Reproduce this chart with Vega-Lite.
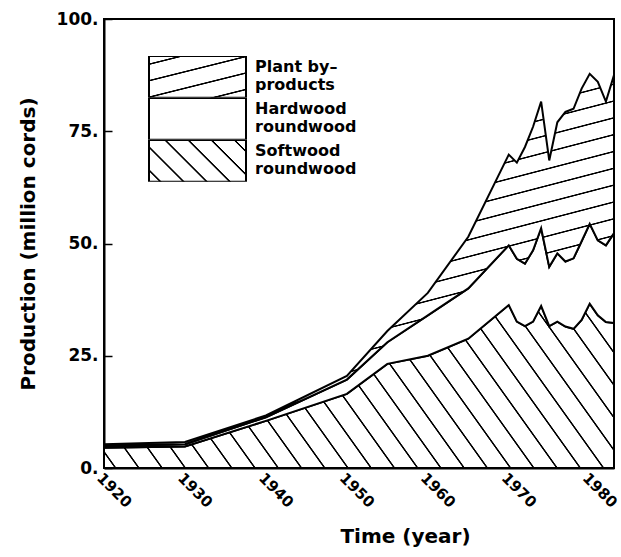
{
  "$schema": "https://vega.github.io/schema/vega-lite/v6.json",
  "width": 510,
  "height": 449,
  "autosize": "none",
  "padding": {"left": 104, "top": 19, "right": 7, "bottom": 89},
  "background": "white",
  "config": {
    "view": {"stroke": "black", "strokeWidth": 2},
    "font": "DejaVu Sans",
    "legend": {"rowPadding": -6}
  },
  "data": {
    "values": [
      {"year": 1920, "category": "Softwood roundwood", "production": 4.5},
      {"year": 1920, "category": "Hardwood roundwood", "production": 0.4},
      {"year": 1920, "category": "Plant by-products", "production": 0.4},
      {"year": 1930, "category": "Softwood roundwood", "production": 4.8},
      {"year": 1930, "category": "Hardwood roundwood", "production": 0.5},
      {"year": 1930, "category": "Plant by-products", "production": 0.5},
      {"year": 1940, "category": "Softwood roundwood", "production": 10.5},
      {"year": 1940, "category": "Hardwood roundwood", "production": 0.8},
      {"year": 1940, "category": "Plant by-products", "production": 0.4},
      {"year": 1950, "category": "Softwood roundwood", "production": 16.5},
      {"year": 1950, "category": "Hardwood roundwood", "production": 3.2},
      {"year": 1950, "category": "Plant by-products", "production": 0.8},
      {"year": 1955, "category": "Softwood roundwood", "production": 23.2},
      {"year": 1955, "category": "Hardwood roundwood", "production": 4.8},
      {"year": 1955, "category": "Plant by-products", "production": 2.5},
      {"year": 1960, "category": "Softwood roundwood", "production": 25.0},
      {"year": 1960, "category": "Hardwood roundwood", "production": 9.0},
      {"year": 1960, "category": "Plant by-products", "production": 5.0},
      {"year": 1965, "category": "Softwood roundwood", "production": 28.8},
      {"year": 1965, "category": "Hardwood roundwood", "production": 11.2},
      {"year": 1965, "category": "Plant by-products", "production": 11.5},
      {"year": 1970, "category": "Softwood roundwood", "production": 36.3},
      {"year": 1970, "category": "Hardwood roundwood", "production": 13.3},
      {"year": 1970, "category": "Plant by-products", "production": 20.2},
      {"year": 1971, "category": "Softwood roundwood", "production": 32.6},
      {"year": 1971, "category": "Hardwood roundwood", "production": 14.0},
      {"year": 1971, "category": "Plant by-products", "production": 21.4},
      {"year": 1972, "category": "Softwood roundwood", "production": 31.6},
      {"year": 1972, "category": "Hardwood roundwood", "production": 13.9},
      {"year": 1972, "category": "Plant by-products", "production": 26.0},
      {"year": 1973, "category": "Softwood roundwood", "production": 32.6},
      {"year": 1973, "category": "Hardwood roundwood", "production": 15.9},
      {"year": 1973, "category": "Plant by-products", "production": 27.5},
      {"year": 1974, "category": "Softwood roundwood", "production": 36.1},
      {"year": 1974, "category": "Hardwood roundwood", "production": 17.3},
      {"year": 1974, "category": "Plant by-products", "production": 28.2},
      {"year": 1975, "category": "Softwood roundwood", "production": 31.6},
      {"year": 1975, "category": "Hardwood roundwood", "production": 13.2},
      {"year": 1975, "category": "Plant by-products", "production": 23.7},
      {"year": 1976, "category": "Softwood roundwood", "production": 32.6},
      {"year": 1976, "category": "Hardwood roundwood", "production": 15.2},
      {"year": 1976, "category": "Plant by-products", "production": 29.2},
      {"year": 1977, "category": "Softwood roundwood", "production": 31.5},
      {"year": 1977, "category": "Hardwood roundwood", "production": 14.5},
      {"year": 1977, "category": "Plant by-products", "production": 33.3},
      {"year": 1978, "category": "Softwood roundwood", "production": 31.0},
      {"year": 1978, "category": "Hardwood roundwood", "production": 15.7},
      {"year": 1978, "category": "Plant by-products", "production": 33.3},
      {"year": 1979, "category": "Softwood roundwood", "production": 33.0},
      {"year": 1979, "category": "Hardwood roundwood", "production": 17.5},
      {"year": 1979, "category": "Plant by-products", "production": 34.0},
      {"year": 1980, "category": "Softwood roundwood", "production": 36.6},
      {"year": 1980, "category": "Hardwood roundwood", "production": 17.8},
      {"year": 1980, "category": "Plant by-products", "production": 33.4},
      {"year": 1981, "category": "Softwood roundwood", "production": 34.0},
      {"year": 1981, "category": "Hardwood roundwood", "production": 16.7},
      {"year": 1981, "category": "Plant by-products", "production": 35.3},
      {"year": 1982, "category": "Softwood roundwood", "production": 32.5},
      {"year": 1982, "category": "Hardwood roundwood", "production": 17.1},
      {"year": 1982, "category": "Plant by-products", "production": 32.0},
      {"year": 1983, "category": "Softwood roundwood", "production": 32.3},
      {"year": 1983, "category": "Hardwood roundwood", "production": 20.0},
      {"year": 1983, "category": "Plant by-products", "production": 35.2}
    ]
  },
  "transform": [
    {"calculate": "indexof(['Softwood roundwood','Hardwood roundwood','Plant by-products'], datum.category)", "as": "ord"},
    {"stack": "production", "groupby": ["year"], "sort": [{"field": "ord", "order": "ascending"}], "as": ["y0", "y1"]}
  ],
  "encoding": {
    "x": {
      "field": "year", "type": "quantitative",
      "scale": {"domain": [1920, 1983], "nice": false, "zero": false},
      "axis": {
        "values": [1920, 1930, 1940, 1950, 1960, 1970, 1980],
        "format": "d",
        "labelAngle": 45, "labelAlign": "left", "labelBaseline": "top",
        "labelFontWeight": "bold", "labelFontSize": 15, "labelColor": "black",
        "labelPadding": 10, "labelFlush": false,
        "tickSize": -8, "tickColor": "black", "tickWidth": 1.5,
        "domainColor": "black", "domainWidth": 2, "grid": false,
        "title": "Time (year)", "titleFontSize": 20, "titleFontWeight": "bold", "titleColor": "black",
        "titleX": 301, "titleY": 74, "titleAlign": "center", "titleBaseline": "alphabetic"
      }
    },
    "y": {
      "field": "y1", "type": "quantitative",
      "scale": {"domain": [0, 100], "nice": false},
      "axis": {
        "values": [0, 25, 50, 75, 100],
        "labelExpr": "datum.value + '.'",
        "labelFontWeight": "bold", "labelFontSize": 17, "labelColor": "black",
        "labelPadding": 14,
        "tickSize": -8, "tickColor": "black", "tickWidth": 1.5,
        "domainColor": "black", "domainWidth": 2, "grid": false,
        "title": "Production (million cords)", "titleFontSize": 20, "titleFontWeight": "bold", "titleColor": "black",
        "titlePadding": 18
      }
    },
    "y2": {"field": "y0"},
    "stroke": {
      "field": "category", "type": "nominal",
      "scale": {"domain": ["Plant by-products", "Hardwood roundwood", "Softwood roundwood"], "range": ["black", "black", "black"]},
      "legend": {
        "orient": "none", "legendX": 44, "legendY": 37, "title": null, "padding": 0,
        "symbolType": "M-1,-0.43H1V0.43H-1Z", "symbolSize": 9409,
        "symbolStrokeWidth": 2, "symbolStrokeColor": "black",
        "clipHeight": 41.7, "rowPadding": -6, "labelOffset": 8,
        "labelFontWeight": "bold", "labelFontSize": 16, "labelColor": "black", "labelLineHeight": 20,
        "labelLimit": 0,
        "labelExpr": "datum.value == 'Plant by-products' ? ['Plant by–', 'products'] : split(datum.value, ' ')",
        "encoding": {
          "labels": {"dy": {"value": -10}},
          "symbols": {
            "fill": {
              "condition": [
                {"test": "datum.value === 'Plant by-products'", "value": {"gradient": "linear", "x1": 0, "y1": 0, "x2": 0.686, "y2": 1.182, "stops": [
                  {"offset": 0.108, "color": "#fff"}, {"offset": 0.1175, "color": "#000"}, {"offset": 0.1325, "color": "#000"}, {"offset": 0.142, "color": "#fff"},
                  {"offset": 0.358, "color": "#fff"}, {"offset": 0.3675, "color": "#000"}, {"offset": 0.3825, "color": "#000"}, {"offset": 0.392, "color": "#fff"},
                  {"offset": 0.608, "color": "#fff"}, {"offset": 0.6175, "color": "#000"}, {"offset": 0.6325, "color": "#000"}, {"offset": 0.642, "color": "#fff"},
                  {"offset": 0.858, "color": "#fff"}, {"offset": 0.8675, "color": "#000"}, {"offset": 0.8825, "color": "#000"}, {"offset": 0.892, "color": "#fff"}
                ]}},
                {"test": "datum.value === 'Softwood roundwood'", "value": {"gradient": "linear", "x1": 0, "y1": 1, "x2": 1.207, "y2": 0.481, "stops": [
                  {"offset": 0.0723, "color": "#fff"}, {"offset": 0.0783, "color": "#000"}, {"offset": 0.0883, "color": "#000"}, {"offset": 0.0943, "color": "#fff"},
                  {"offset": 0.2390, "color": "#fff"}, {"offset": 0.2450, "color": "#000"}, {"offset": 0.2550, "color": "#000"}, {"offset": 0.2610, "color": "#fff"},
                  {"offset": 0.4057, "color": "#fff"}, {"offset": 0.4117, "color": "#000"}, {"offset": 0.4217, "color": "#000"}, {"offset": 0.4277, "color": "#fff"},
                  {"offset": 0.5723, "color": "#fff"}, {"offset": 0.5783, "color": "#000"}, {"offset": 0.5883, "color": "#000"}, {"offset": 0.5943, "color": "#fff"},
                  {"offset": 0.7390, "color": "#fff"}, {"offset": 0.7450, "color": "#000"}, {"offset": 0.7550, "color": "#000"}, {"offset": 0.7610, "color": "#fff"},
                  {"offset": 0.9057, "color": "#fff"}, {"offset": 0.9117, "color": "#000"}, {"offset": 0.9217, "color": "#000"}, {"offset": 0.9277, "color": "#fff"}
                ]}}
              ],
              "value": "white"
            }
          }
        }
      }
    }
  },
  "layer": [
    {
      "transform": [{"filter": "datum.category === 'Softwood roundwood'"}],
      "mark": {"type": "area", "strokeWidth": 2, "fill": {"gradient": "linear", "x1": 0, "y1": 1, "x2": 1.168, "y2": 0.731, "stops": [
        {"offset": 0.0163, "color": "#fff"}, {"offset": 0.0176, "color": "#000"}, {"offset": 0.0194, "color": "#000"}, {"offset": 0.0207, "color": "#fff"},
        {"offset": 0.0534, "color": "#fff"}, {"offset": 0.0547, "color": "#000"}, {"offset": 0.0565, "color": "#000"}, {"offset": 0.0578, "color": "#fff"},
        {"offset": 0.0904, "color": "#fff"}, {"offset": 0.0917, "color": "#000"}, {"offset": 0.0935, "color": "#000"}, {"offset": 0.0948, "color": "#fff"},
        {"offset": 0.1274, "color": "#fff"}, {"offset": 0.1287, "color": "#000"}, {"offset": 0.1305, "color": "#000"}, {"offset": 0.1318, "color": "#fff"},
        {"offset": 0.1645, "color": "#fff"}, {"offset": 0.1658, "color": "#000"}, {"offset": 0.1676, "color": "#000"}, {"offset": 0.1689, "color": "#fff"},
        {"offset": 0.2015, "color": "#fff"}, {"offset": 0.2028, "color": "#000"}, {"offset": 0.2046, "color": "#000"}, {"offset": 0.2059, "color": "#fff"},
        {"offset": 0.2385, "color": "#fff"}, {"offset": 0.2398, "color": "#000"}, {"offset": 0.2416, "color": "#000"}, {"offset": 0.2429, "color": "#fff"},
        {"offset": 0.2756, "color": "#fff"}, {"offset": 0.2769, "color": "#000"}, {"offset": 0.2787, "color": "#000"}, {"offset": 0.2800, "color": "#fff"},
        {"offset": 0.3126, "color": "#fff"}, {"offset": 0.3139, "color": "#000"}, {"offset": 0.3157, "color": "#000"}, {"offset": 0.3170, "color": "#fff"},
        {"offset": 0.3497, "color": "#fff"}, {"offset": 0.3510, "color": "#000"}, {"offset": 0.3528, "color": "#000"}, {"offset": 0.3541, "color": "#fff"},
        {"offset": 0.3867, "color": "#fff"}, {"offset": 0.3880, "color": "#000"}, {"offset": 0.3898, "color": "#000"}, {"offset": 0.3911, "color": "#fff"},
        {"offset": 0.4237, "color": "#fff"}, {"offset": 0.4250, "color": "#000"}, {"offset": 0.4268, "color": "#000"}, {"offset": 0.4281, "color": "#fff"},
        {"offset": 0.4608, "color": "#fff"}, {"offset": 0.4621, "color": "#000"}, {"offset": 0.4639, "color": "#000"}, {"offset": 0.4652, "color": "#fff"},
        {"offset": 0.4978, "color": "#fff"}, {"offset": 0.4991, "color": "#000"}, {"offset": 0.5009, "color": "#000"}, {"offset": 0.5022, "color": "#fff"},
        {"offset": 0.5348, "color": "#fff"}, {"offset": 0.5361, "color": "#000"}, {"offset": 0.5379, "color": "#000"}, {"offset": 0.5392, "color": "#fff"},
        {"offset": 0.5719, "color": "#fff"}, {"offset": 0.5732, "color": "#000"}, {"offset": 0.5750, "color": "#000"}, {"offset": 0.5763, "color": "#fff"},
        {"offset": 0.6089, "color": "#fff"}, {"offset": 0.6102, "color": "#000"}, {"offset": 0.6120, "color": "#000"}, {"offset": 0.6133, "color": "#fff"},
        {"offset": 0.6459, "color": "#fff"}, {"offset": 0.6472, "color": "#000"}, {"offset": 0.6490, "color": "#000"}, {"offset": 0.6503, "color": "#fff"},
        {"offset": 0.6830, "color": "#fff"}, {"offset": 0.6843, "color": "#000"}, {"offset": 0.6861, "color": "#000"}, {"offset": 0.6874, "color": "#fff"},
        {"offset": 0.7200, "color": "#fff"}, {"offset": 0.7213, "color": "#000"}, {"offset": 0.7231, "color": "#000"}, {"offset": 0.7244, "color": "#fff"},
        {"offset": 0.7571, "color": "#fff"}, {"offset": 0.7584, "color": "#000"}, {"offset": 0.7602, "color": "#000"}, {"offset": 0.7615, "color": "#fff"},
        {"offset": 0.7941, "color": "#fff"}, {"offset": 0.7954, "color": "#000"}, {"offset": 0.7972, "color": "#000"}, {"offset": 0.7985, "color": "#fff"},
        {"offset": 0.8311, "color": "#fff"}, {"offset": 0.8324, "color": "#000"}, {"offset": 0.8342, "color": "#000"}, {"offset": 0.8355, "color": "#fff"},
        {"offset": 0.8682, "color": "#fff"}, {"offset": 0.8695, "color": "#000"}, {"offset": 0.8713, "color": "#000"}, {"offset": 0.8726, "color": "#fff"},
        {"offset": 0.9052, "color": "#fff"}, {"offset": 0.9065, "color": "#000"}, {"offset": 0.9083, "color": "#000"}, {"offset": 0.9096, "color": "#fff"},
        {"offset": 0.9422, "color": "#fff"}, {"offset": 0.9435, "color": "#000"}, {"offset": 0.9453, "color": "#000"}, {"offset": 0.9466, "color": "#fff"},
        {"offset": 0.9793, "color": "#fff"}, {"offset": 0.9806, "color": "#000"}, {"offset": 0.9824, "color": "#000"}, {"offset": 0.9837, "color": "#fff"}
      ]}}
    },
    {
      "transform": [{"filter": "datum.category === 'Hardwood roundwood'"}],
      "mark": {"type": "area", "strokeWidth": 2, "fill": "white"}
    },
    {
      "transform": [{"filter": "datum.category === 'Plant by-products'"}],
      "mark": {"type": "area", "strokeWidth": 2, "fill": {"gradient": "linear", "x1": 0, "y1": 0, "x2": 0.429, "y2": 1.2035, "stops": [
        {"offset": 0.0145, "color": "#fff"}, {"offset": 0.0158, "color": "#000"}, {"offset": 0.0176, "color": "#000"}, {"offset": 0.0189, "color": "#fff"},
        {"offset": 0.0478, "color": "#fff"}, {"offset": 0.0491, "color": "#000"}, {"offset": 0.0509, "color": "#000"}, {"offset": 0.0522, "color": "#fff"},
        {"offset": 0.0811, "color": "#fff"}, {"offset": 0.0824, "color": "#000"}, {"offset": 0.0842, "color": "#000"}, {"offset": 0.0855, "color": "#fff"},
        {"offset": 0.1145, "color": "#fff"}, {"offset": 0.1158, "color": "#000"}, {"offset": 0.1176, "color": "#000"}, {"offset": 0.1189, "color": "#fff"},
        {"offset": 0.1478, "color": "#fff"}, {"offset": 0.1491, "color": "#000"}, {"offset": 0.1509, "color": "#000"}, {"offset": 0.1522, "color": "#fff"},
        {"offset": 0.1811, "color": "#fff"}, {"offset": 0.1824, "color": "#000"}, {"offset": 0.1842, "color": "#000"}, {"offset": 0.1855, "color": "#fff"},
        {"offset": 0.2145, "color": "#fff"}, {"offset": 0.2158, "color": "#000"}, {"offset": 0.2176, "color": "#000"}, {"offset": 0.2189, "color": "#fff"},
        {"offset": 0.2478, "color": "#fff"}, {"offset": 0.2491, "color": "#000"}, {"offset": 0.2509, "color": "#000"}, {"offset": 0.2522, "color": "#fff"},
        {"offset": 0.2811, "color": "#fff"}, {"offset": 0.2824, "color": "#000"}, {"offset": 0.2842, "color": "#000"}, {"offset": 0.2855, "color": "#fff"},
        {"offset": 0.3145, "color": "#fff"}, {"offset": 0.3158, "color": "#000"}, {"offset": 0.3176, "color": "#000"}, {"offset": 0.3189, "color": "#fff"},
        {"offset": 0.3478, "color": "#fff"}, {"offset": 0.3491, "color": "#000"}, {"offset": 0.3509, "color": "#000"}, {"offset": 0.3522, "color": "#fff"},
        {"offset": 0.3811, "color": "#fff"}, {"offset": 0.3824, "color": "#000"}, {"offset": 0.3842, "color": "#000"}, {"offset": 0.3855, "color": "#fff"},
        {"offset": 0.4145, "color": "#fff"}, {"offset": 0.4158, "color": "#000"}, {"offset": 0.4176, "color": "#000"}, {"offset": 0.4189, "color": "#fff"},
        {"offset": 0.4478, "color": "#fff"}, {"offset": 0.4491, "color": "#000"}, {"offset": 0.4509, "color": "#000"}, {"offset": 0.4522, "color": "#fff"},
        {"offset": 0.4811, "color": "#fff"}, {"offset": 0.4824, "color": "#000"}, {"offset": 0.4842, "color": "#000"}, {"offset": 0.4855, "color": "#fff"},
        {"offset": 0.5145, "color": "#fff"}, {"offset": 0.5158, "color": "#000"}, {"offset": 0.5176, "color": "#000"}, {"offset": 0.5189, "color": "#fff"},
        {"offset": 0.5478, "color": "#fff"}, {"offset": 0.5491, "color": "#000"}, {"offset": 0.5509, "color": "#000"}, {"offset": 0.5522, "color": "#fff"},
        {"offset": 0.5811, "color": "#fff"}, {"offset": 0.5824, "color": "#000"}, {"offset": 0.5842, "color": "#000"}, {"offset": 0.5855, "color": "#fff"},
        {"offset": 0.6145, "color": "#fff"}, {"offset": 0.6158, "color": "#000"}, {"offset": 0.6176, "color": "#000"}, {"offset": 0.6189, "color": "#fff"},
        {"offset": 0.6478, "color": "#fff"}, {"offset": 0.6491, "color": "#000"}, {"offset": 0.6509, "color": "#000"}, {"offset": 0.6522, "color": "#fff"},
        {"offset": 0.6811, "color": "#fff"}, {"offset": 0.6824, "color": "#000"}, {"offset": 0.6842, "color": "#000"}, {"offset": 0.6855, "color": "#fff"},
        {"offset": 0.7145, "color": "#fff"}, {"offset": 0.7158, "color": "#000"}, {"offset": 0.7176, "color": "#000"}, {"offset": 0.7189, "color": "#fff"},
        {"offset": 0.7478, "color": "#fff"}, {"offset": 0.7491, "color": "#000"}, {"offset": 0.7509, "color": "#000"}, {"offset": 0.7522, "color": "#fff"},
        {"offset": 0.7811, "color": "#fff"}, {"offset": 0.7824, "color": "#000"}, {"offset": 0.7842, "color": "#000"}, {"offset": 0.7855, "color": "#fff"},
        {"offset": 0.8145, "color": "#fff"}, {"offset": 0.8158, "color": "#000"}, {"offset": 0.8176, "color": "#000"}, {"offset": 0.8189, "color": "#fff"},
        {"offset": 0.8478, "color": "#fff"}, {"offset": 0.8491, "color": "#000"}, {"offset": 0.8509, "color": "#000"}, {"offset": 0.8522, "color": "#fff"},
        {"offset": 0.8811, "color": "#fff"}, {"offset": 0.8824, "color": "#000"}, {"offset": 0.8842, "color": "#000"}, {"offset": 0.8855, "color": "#fff"},
        {"offset": 0.9145, "color": "#fff"}, {"offset": 0.9158, "color": "#000"}, {"offset": 0.9176, "color": "#000"}, {"offset": 0.9189, "color": "#fff"},
        {"offset": 0.9478, "color": "#fff"}, {"offset": 0.9491, "color": "#000"}, {"offset": 0.9509, "color": "#000"}, {"offset": 0.9522, "color": "#fff"},
        {"offset": 0.9811, "color": "#fff"}, {"offset": 0.9824, "color": "#000"}, {"offset": 0.9842, "color": "#000"}, {"offset": 0.9855, "color": "#fff"}
      ]}}
    }
  ]
}
